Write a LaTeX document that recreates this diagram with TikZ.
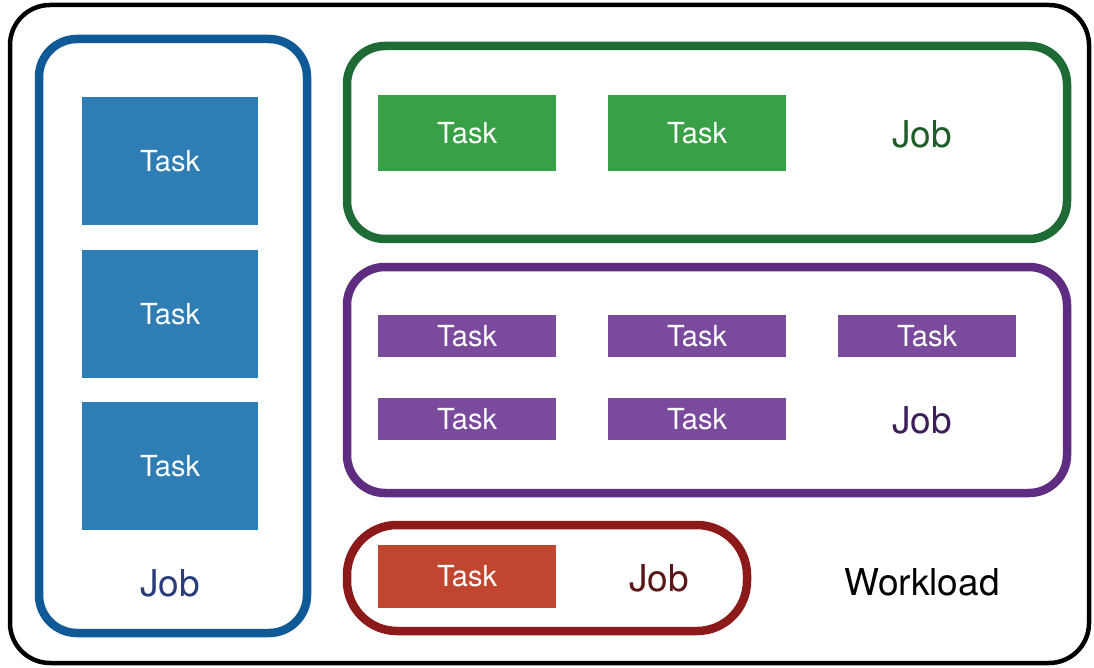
\documentclass[tikz,border=0pt]{standalone}
\usepackage{fontspec}
\setmainfont{TeX Gyre Heros}
\begin{document}
\begin{tikzpicture}[x=1pt,y=-1pt,
  frame/.style={rounded corners=38pt,line width=8.5pt},
  task/.style={draw=none,minimum width=178pt,text=white,font=\fontsize{29}{32}\selectfont,inner sep=0pt},
  joblabel/.style={font=\fontsize{37}{40}\selectfont,inner sep=0pt}]
\useasboundingbox (0,0) rectangle (1094,668);
\definecolor{bluejob}{HTML}{0F5A96}
\definecolor{bluetask}{HTML}{2E7DB5}
\definecolor{bluetext}{HTML}{2A3C7A}
\definecolor{greenjob}{HTML}{1E6B35}
\definecolor{greentask}{HTML}{3AA047}
\definecolor{greentext}{HTML}{1E5C2A}
\definecolor{purplejob}{HTML}{5E2D82}
\definecolor{purpletask}{HTML}{7A4A9C}
\definecolor{purpletext}{HTML}{3D1E5A}
\definecolor{redjob}{HTML}{8C1A1A}
\definecolor{redtask}{HTML}{C0462F}
\definecolor{redtext}{HTML}{5A1515}
% workload
\draw[rounded corners=40pt,line width=4.5pt] (10,5) rectangle (1089,663);
\node[joblabel] (wl) at (922,582) {Workload};
% blue job
\draw[frame,draw=bluejob] (39,39) rectangle (307,633);
\node[task,fill=bluetask,minimum width=176pt,minimum height=128pt] (b1) at (170,161) {Task};
\node[task,fill=bluetask,minimum width=176pt,minimum height=128pt] (b2) at (170,314) {Task};
\node[task,fill=bluetask,minimum width=176pt,minimum height=128pt] (b3) at (170,466) {Task};
\node[joblabel,text=bluetext] (bj) at (170,583) {Job};
% green job
\draw[frame,draw=greenjob] (347,46) rectangle (1067,239);
\node[task,fill=greentask,minimum height=76pt] (g1) at (467,133) {Task};
\node[task,fill=greentask,minimum height=76pt] (g2) at (697,133) {Task};
\node[joblabel,text=greentext] (gj) at (922,134) {Job};
% purple job
\draw[frame,draw=purplejob] (347,267) rectangle (1067,493);
\node[task,fill=purpletask,minimum height=42pt] (p1) at (467,336) {Task};
\node[task,fill=purpletask,minimum height=42pt] (p2) at (697,336) {Task};
\node[task,fill=purpletask,minimum height=42pt] (p3) at (927,336) {Task};
\node[task,fill=purpletask,minimum height=42pt] (p4) at (467,419) {Task};
\node[task,fill=purpletask,minimum height=42pt] (p5) at (697,419) {Task};
\node[joblabel,text=purpletext] (pj) at (922,420) {Job};
% red job
\draw[line width=8.5pt,draw=redjob,rounded corners=50pt] (347,525) rectangle (747,631);
\node[task,fill=redtask,minimum height=63pt] (r1) at (467,576) {Task};
\node[joblabel,text=redtext] (rj) at (659,578) {Job};
\end{tikzpicture}
\end{document}
